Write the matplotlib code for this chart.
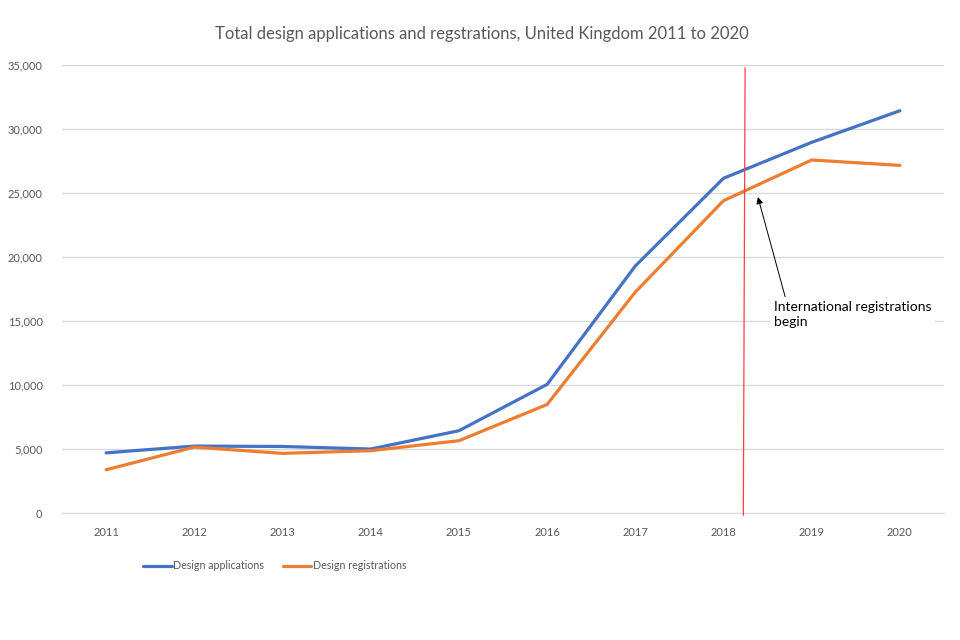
import matplotlib
matplotlib.use("Agg")
import matplotlib.pyplot as plt
from matplotlib.ticker import FuncFormatter

plt.rcParams['font.family'] = ['Lato', 'DejaVu Sans']

# Data
years = ['2011', '2012', '2013', '2014', '2015', '2016', '2017', '2018', '2019', '2020']
applications = [4700, 5230, 5200, 5000, 6430, 10050, 19300, 26150, 28960, 31430]
registrations = [3380, 5150, 4660, 4870, 5650, 8480, 17260, 24400, 27580, 27160]

grey = '#595959'
grid_grey = '#d9d9d9'

fig = plt.figure(figsize=(9.6, 6.4), dpi=100)
ax = fig.add_axes([0.0646, 0.1984, 0.9187, 0.7000])

x = list(range(len(years)))
ax.plot(x, applications, color='#4472C4', lw=2.3, label='Design applications', solid_capstyle='round')
ax.plot(x, registrations, color='#ED7D31', lw=2.3, label='Design registrations', solid_capstyle='round')

ax.set_xlim(-0.5, len(years) - 0.5)
ax.set_ylim(0, 35000)
ax.set_yticks(range(0, 35001, 5000))
ax.yaxis.set_major_formatter(FuncFormatter(lambda v, p: f'{int(v):,}'))
ax.set_xticks(x)
ax.set_xticklabels(years)

ax.grid(axis='y', color=grid_grey, lw=1)
ax.set_axisbelow(True)
for s in ['top', 'right', 'left']:
    ax.spines[s].set_visible(False)
ax.spines['bottom'].set_color(grid_grey)
ax.tick_params(axis='both', length=0, labelsize=8, labelcolor=grey)
ax.tick_params(axis='y', pad=14)
ax.tick_params(axis='x', pad=10)

fig.text(482 / 960, 1 - 34 / 640, 'Total design applications and regstrations, United Kingdom 2011 to 2020',
         fontsize=12, color=grey, ha='center', va='center')

# red marker line for the start of international registrations
ax.plot([7.225, 7.245], [-160, 34770], color='#ff4040', lw=0.9, clip_on=False, zorder=3)

ax.annotate('International registrations\nbegin', xy=(7.39, 24690), xytext=(7.57, 15500),
            fontsize=10, color='black', ha='left', va='center', linespacing=1.3,
            bbox=dict(boxstyle='square,pad=0.3', fc='white', ec='none'),
            arrowprops=dict(arrowstyle='-|>', color='black', lw=0.7,
                            shrinkA=0, shrinkB=0, mutation_scale=10,
                            relpos=(0.08, 1.0)))

ax.legend(loc='center left', bbox_to_anchor=(0.145, 0.116), bbox_transform=fig.transFigure,
          ncol=2, frameon=False, fontsize=7.7, labelcolor=grey, handlelength=2.7,
          handletextpad=0.1, columnspacing=1.7, borderaxespad=0)

fig.savefig('out.png', dpi=100)
